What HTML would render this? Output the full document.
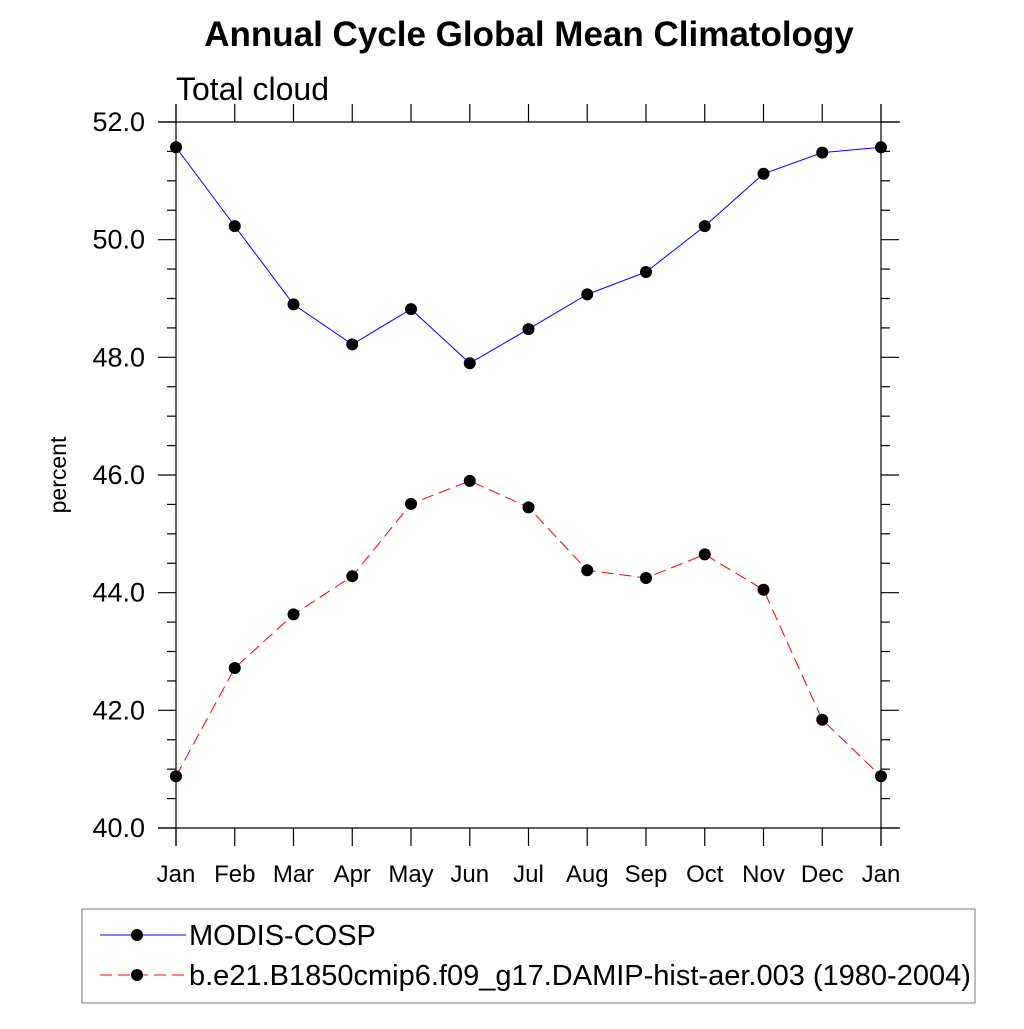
<!DOCTYPE html>
<html><head><meta charset="utf-8"><style>body{margin:0;background:#fff}text{font-family:"Liberation Sans",sans-serif}</style></head>
<body>
<svg id="chart" width="1024" height="1024" xmlns="http://www.w3.org/2000/svg">
<text x="529" y="46" text-anchor="middle" font-size="35" font-weight="bold">Annual Cycle Global Mean Climatology</text>
<text x="176" y="100" font-size="32">Total cloud</text>
<text transform="translate(66,475) rotate(-90)" text-anchor="middle" font-size="23">percent</text>
<g id="axes" stroke="#000" stroke-width="1.2"></g>
<g id="marks"></g>
<rect x="82" y="909" width="893" height="94" fill="none" stroke="#777" stroke-width="1"/>
<g>
<line x1="100" y1="935" x2="186" y2="935" stroke="#0000ff" stroke-width="1"/>
<circle cx="137" cy="935" r="6" fill="#000"/>
<text x="189" y="945" font-size="29">MODIS-COSP</text></g>
<g>
<line x1="100" y1="975" x2="186" y2="975" stroke="#ff0000" stroke-width="1" stroke-dasharray="12,6"/>
<circle cx="137" cy="975" r="6" fill="#000"/>
<text x="189" y="985" font-size="29">b.e21.B1850cmip6.f09_g17.DAMIP-hist-aer.003 (1980-2004)</text></g>
</svg>
<script>
const months=["Jan","Feb","Mar","Apr","May","Jun","Jul","Aug","Sep","Oct","Nov","Dec","Jan"];
const modis=[51.57,50.23,48.90,48.22,48.82,47.90,48.48,49.07,49.45,50.23,51.12,51.48,51.57];
const model=[40.88,42.72,43.63,44.28,45.51,45.90,45.45,44.38,44.25,44.65,44.05,41.84,40.88];
const yTicks=[40,42,44,46,48,50,52];
const NS="http://www.w3.org/2000/svg";
const X0=176,X1=881,Y0=828,Y1=122,ymin=40,ymax=52;
const xs=i=>X0+(X1-X0)*i/(months.length-1);
const ys=v=>Y0-(Y0-Y1)*(v-ymin)/(ymax-ymin);
const svg=document.getElementById('chart');
const ax=document.getElementById('axes'),mk=document.getElementById('marks');
function ln(p,a,b,c,d){const l=document.createElementNS(NS,'line');l.setAttribute('x1',a);l.setAttribute('y1',b);l.setAttribute('x2',c);l.setAttribute('y2',d);p.appendChild(l);return l;}
ln(ax,158,Y1,900,Y1);ln(ax,158,Y0,900,Y0);ln(ax,X0,104,X0,846);ln(ax,X1,104,X1,846);
for(let i=0;i<months.length;i++){const x=xs(i);ln(ax,x,Y1,x,Y1-18);ln(ax,x,Y0,x,Y0+18);
const t=document.createElementNS(NS,'text');


t.setAttribute('x',x);t.setAttribute('y',882);t.setAttribute('text-anchor','middle');t.setAttribute('font-size','24');t.textContent=months[i];svg.appendChild(t);}
for(let v=ymin;v<=ymax+1e-9;v+=0.5){const y=ys(v);const maj=Math.abs(v%2)<1e-9;const L=maj?18:9;ln(ax,X0,y,X0-L,y);ln(ax,X1,y,X1+L,y);}
yTicks.forEach(v=>{const t=document.createElementNS(NS,'text');


t.setAttribute('x',145);t.setAttribute('y',ys(v)+9);t.setAttribute('text-anchor','end');t.setAttribute('font-size','27');t.textContent=v.toFixed(1);svg.appendChild(t);});
function series(vals,color,dash,name){const p=document.createElementNS(NS,'polyline');


p.setAttribute('points',vals.map((v,i)=>xs(i)+','+ys(v)).join(' '));p.setAttribute('fill','none');p.setAttribute('stroke',color);p.setAttribute('stroke-width','1');if(dash)p.setAttribute('stroke-dasharray',dash);mk.appendChild(p);
vals.forEach((v,i)=>{const c=document.createElementNS(NS,'circle');


c.setAttribute('cx',xs(i));c.setAttribute('cy',ys(v));c.setAttribute('r','6');c.setAttribute('fill','#000');mk.appendChild(c);});}
series(modis,'#0000ff',null,'modis');
series(model,'#ff0000','12,6','model');
</script>
</body></html>
